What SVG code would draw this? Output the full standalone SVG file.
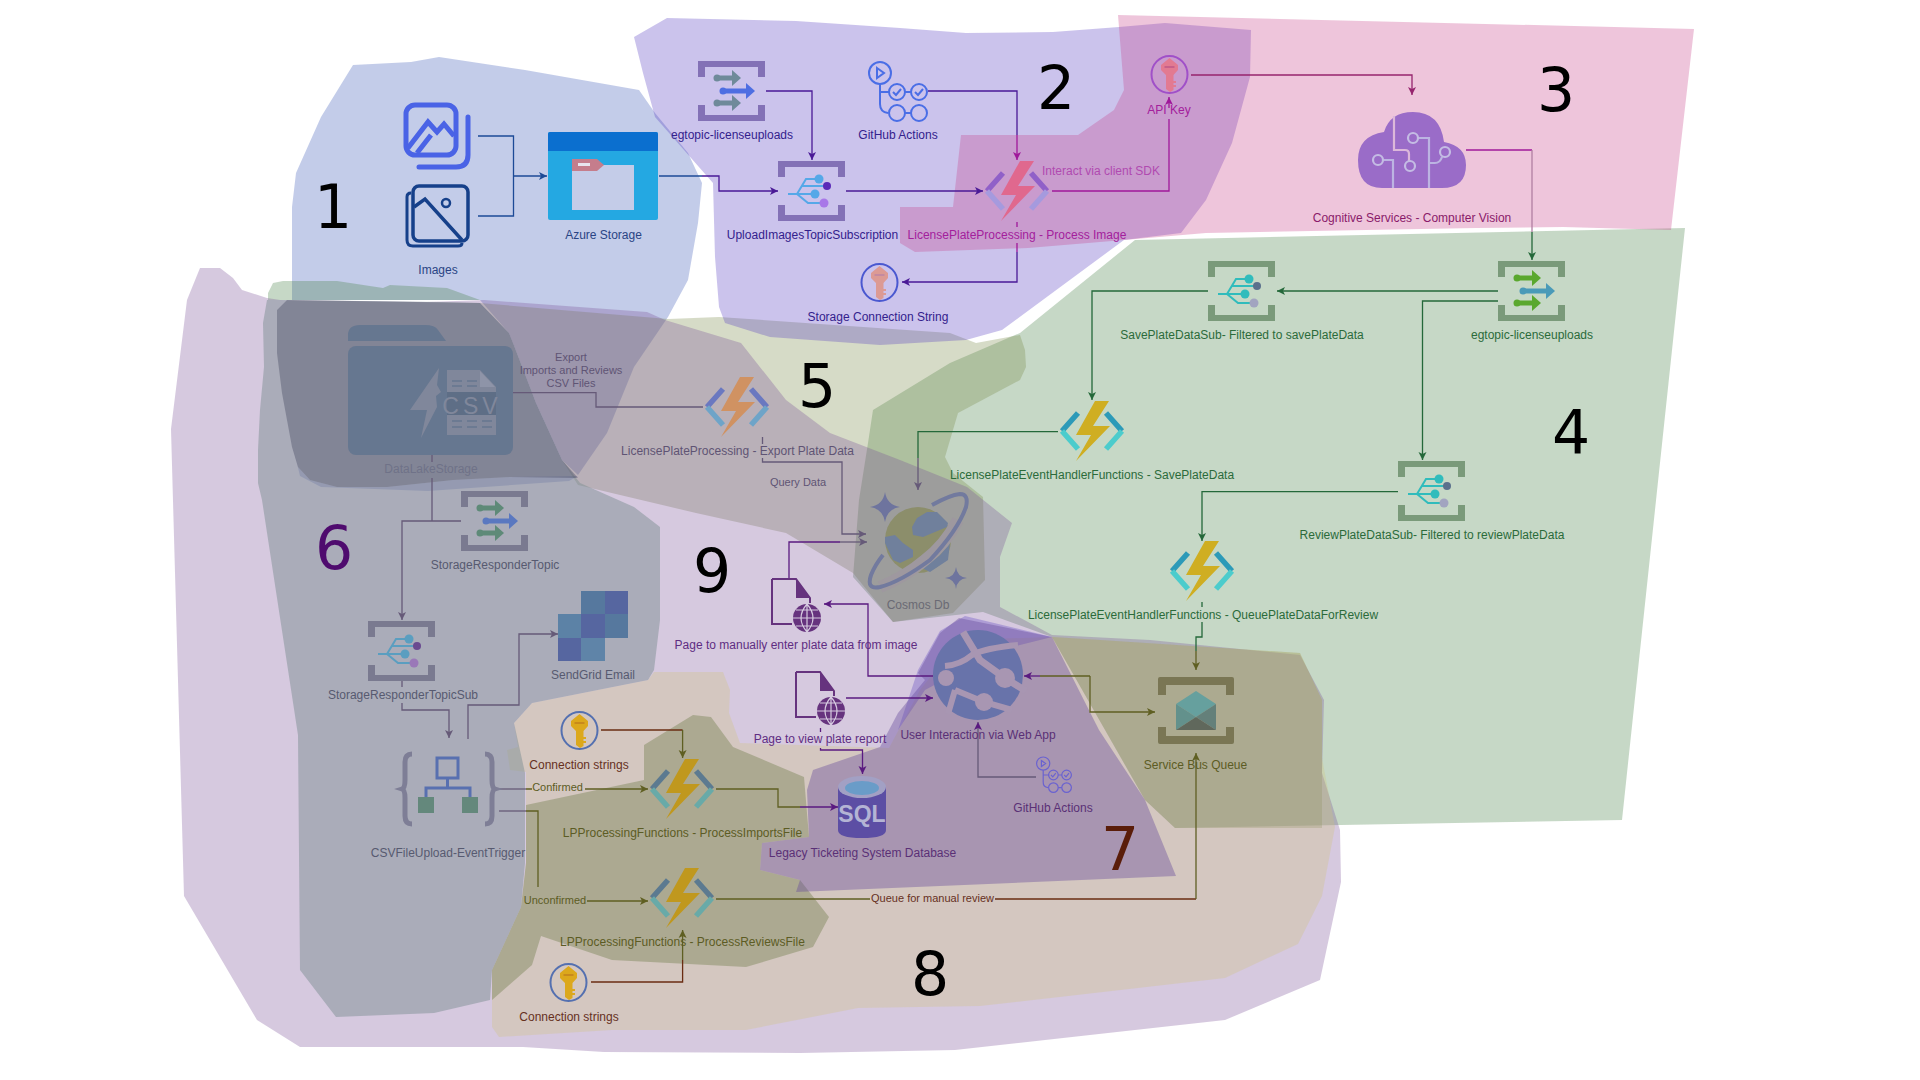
<svg xmlns="http://www.w3.org/2000/svg" width="1920" height="1080" viewBox="0 0 1920 1080">
<style>
text{font-family:"Liberation Sans",Arial,sans-serif;font-size:12px;text-anchor:middle}
.s{font-size:11px}
.num{font-family:"DejaVu Sans",sans-serif;font-size:60px;fill:#000}
.l{fill:none;stroke-width:1.3}
.navy{stroke:#1d4a96}.pur{stroke:#4a1a96}.mag{stroke:#a0189a}.pink{stroke:#96246e}.grn{stroke:#24683a}.gry{stroke:#665a78}.dpur{stroke:#5a1a80}.olv{stroke:#5f5f22}.brn{stroke:#6a2c12}.lg{stroke:#b07ea2}
.t1{fill:#2a4484}.t2{fill:#33218c}.t3{fill:#8a1a6a}.t3b{fill:#a3209c}.t3c{fill:#b04ab0}.t4{fill:#2b6b3a}
.t5{fill:#5f5474}.t6{fill:#575a70}.t6b{fill:#6f7288}.t7{fill:#5a3076}.t8{fill:#66301e}.t8b{fill:#5c5c24}.t9{fill:#5f2d82}.tc{fill:#6a6a74}
.fn{stroke-width:5.5;fill:none}
</style>
<defs>
<marker id="a-navy" markerUnits="userSpaceOnUse" markerWidth="9" markerHeight="10" refX="8" refY="5" orient="auto"><path d="M0 1L8 5L0 9L2 5Z" fill="#1d4a96"/></marker>
<marker id="a-pur" markerUnits="userSpaceOnUse" markerWidth="9" markerHeight="10" refX="8" refY="5" orient="auto"><path d="M0 1L8 5L0 9L2 5Z" fill="#4a1a96"/></marker>
<marker id="a-mag" markerUnits="userSpaceOnUse" markerWidth="9" markerHeight="10" refX="8" refY="5" orient="auto"><path d="M0 1L8 5L0 9L2 5Z" fill="#a0189a"/></marker>
<marker id="a-pink" markerUnits="userSpaceOnUse" markerWidth="9" markerHeight="10" refX="8" refY="5" orient="auto"><path d="M0 1L8 5L0 9L2 5Z" fill="#96246e"/></marker>
<marker id="a-grn" markerUnits="userSpaceOnUse" markerWidth="9" markerHeight="10" refX="8" refY="5" orient="auto"><path d="M0 1L8 5L0 9L2 5Z" fill="#24683a"/></marker>
<marker id="a-gry" markerUnits="userSpaceOnUse" markerWidth="9" markerHeight="10" refX="8" refY="5" orient="auto"><path d="M0 1L8 5L0 9L2 5Z" fill="#665a78"/></marker>
<marker id="a-dpur" markerUnits="userSpaceOnUse" markerWidth="9" markerHeight="10" refX="8" refY="5" orient="auto"><path d="M0 1L8 5L0 9L2 5Z" fill="#5a1a80"/></marker>
<marker id="a-olv" markerUnits="userSpaceOnUse" markerWidth="9" markerHeight="10" refX="8" refY="5" orient="auto"><path d="M0 1L8 5L0 9L2 5Z" fill="#5f5f22"/></marker>

<g id="fn">
<path class="fn" style="stroke:var(--u)" d="M-14-18L-30 0M14-18L30 0"/>
<path class="fn" style="stroke:var(--d)" d="M-30 0L-14 18M30 0L14 18"/>
<path style="fill:var(--b)" d="M3-30H17L1-5H18L-16 30L-1 4H-16Z"/>
</g>
<path id="brk" style="fill:var(--k)" d="M0 0H67V16H60V6H7V16H0ZM0 44H7V54H60V44H67V60H0Z"/>
<g id="sub">
<use href="#brk"/>
<path fill="none" style="stroke:var(--p)" stroke-width="2" d="M10 33H37M19 33L28 18H41M19 33L30 42H46M24 25H49"/>
<circle cx="41" cy="18" r="4.5" style="fill:var(--p)"/><circle cx="37" cy="33" r="4.5" style="fill:var(--p)"/>
<circle cx="49" cy="25" r="4" style="fill:var(--q)"/><circle cx="46" cy="42" r="4.5" style="fill:var(--r)"/>
</g>
<g id="top">
<use href="#brk"/>
<g style="fill:var(--p)"><circle cx="19" cy="17" r="3.5"/><rect x="19" y="14.500" width="16" height="5"/><path d="M34 9L43 17L34 25Z"/>
<circle cx="19" cy="42" r="3.5"/><rect x="19" y="39.500" width="16" height="5"/><path d="M34 34L43 42L34 50Z"/></g>
<g style="fill:var(--m)"><circle cx="25" cy="30" r="3.5"/><rect x="25" y="27.500" width="24" height="5"/><path d="M48 22L57 30L48 38Z"/></g>
</g>
<g id="key">
<ellipse cx="19.500" cy="19.500" rx="18" ry="18.500" fill="none" style="stroke:var(--r)" stroke-width="2"/>
<path style="fill:var(--k)" d="M19.500 3L28 10V15L23.500 20V26H26V28H23.500V30H26V32H23.500V35L20 37L16 34V20L11 15V10Z"/>
<rect x="14.500" y="11" width="10" height="2" style="fill:var(--h)"/>
</g>
<g id="gh" fill="none" style="stroke:var(--g)" stroke-width="2">
<circle cx="12" cy="11" r="11"/><path d="M9 6L16 11L9 16Z"/>
<path d="M12 22V42Q12 50 20 51M12 30Q12 30 22 30"/>
<circle cx="29" cy="30" r="8"/><circle cx="51" cy="30" r="8"/><circle cx="29" cy="51" r="8"/><circle cx="51" cy="51" r="8"/>
<path d="M37 30H43M37 51H43M25 30L28 33L33 27M47 30L50 33L55 27"/>
</g>
<g id="doc">
<path fill="none" stroke-width="2" style="stroke:var(--c)" d="M1 1H25L39 20V25M21 46H1V1"/>
<path style="fill:var(--c)" d="M25 1L39 20H25Z"/>
<ellipse cx="36" cy="40" rx="14" ry="14" style="fill:var(--c)"/>
<path fill="none" stroke="#d6cbe0" stroke-width="1.2" d="M22 40H50M25 32H47M25 48H47M36 26V54M36 26Q24 40 36 54M36 26Q48 40 36 54"/>
</g>
</defs>

<g id="regions">
<path id="r1" fill="#3755b6" fill-opacity=".3" d="M292 300L292 207L296 173L321 117L353 65L411 62L439 57L525 70L639 90L655 113L688 153L702 183L698 223L688 280L668 317L634 367L607 433L578 475L562 460L536 403L513 343L509 333L480 300ZM293 447L298 467L310 480L337 487L387 487L453 480L510 477L578 476L569 481L428 491L321 487L300 476Z"/>
<path id="r4" fill="#417d41" fill-opacity=".3" d="M1685 228L1622 820L1175 828L1145 800L1052 637L983 612L893 622L853 577L859 500L868 443L873 410L950 363L1020 333L1135 240Z"/>
<path id="r4b" fill="#417d41" fill-opacity=".3" d="M268 300L268 293L273 283L283 281L337 281L383 288L390 285L447 288L480 300Z"/>
<path id="r5" fill="#768744" fill-opacity=".3" d="M480 303L668 319L719 317L950 333L976 343L1020 335L1025 350L1026 367L1020 380L958 413L945 457L953 473L983 497L985 580L953 613L893 622L853 573L786 533L696 513L578 485L562 460L536 403L513 343L509 333Z"/>
<path id="r9" fill="#764b94" fill-opacity=".3" d="M200 268L220 268L233 278L242 290L267 298L280 300L427 302L484 300L647 312L665 320L741 343L786 400L830 433L900 460L967 487L1012 523L1000 557L1000 607L1052 635L1150 640L1300 655L1324 700L1322 773L1340 830L1341 882L1320 980L1225 1020L1090 1035L955 1050L800 1053L604 1052L523 1047L300 1047L257 1020L184 896L171 429L187 300Z"/>
<path id="r8" fill="#cfc27b" fill-opacity=".3" d="M492 1000L492 1027L499 1037L612 1030L746 1030L858 1008L980 1006L1225 978L1298 944L1322 896L1335 827L1322 758L1322 700L1300 653L1100 640L1052 637L960 640L920 690L889 748L740 743L729 713L730 690L723 672L654 672L648 680L532 703L514 723L518 747L507 750L510 770L526 772L526 863L521 907L492 970Z"/>
<path id="blob" fill="#627238" fill-opacity=".35" d="M526 805L644 780L644 745L693 715L711 717L733 747L804 777L809 837L762 843L760 870L800 880L829 917L813 947L746 967L612 960L541 936L532 965L492 1000L492 970L521 907L526 863Z"/>
<path id="blobr" fill="#888c54" fill-opacity=".25" d="M1052 637L1100 640L1300 653L1322 700L1322 758L1322 828L1175 828L1145 800Z"/>
<path id="r6" fill="#7e8f93" fill-opacity=".5" d="M267 300L280 300L441 302L480 303L509 333L513 343L536 403L562 460L580 483L634 507L660 527L660 620L654 670L648 680L532 703L514 723L525 773L525 863L521 907L492 970L490 1000L434 1013L336 1017L300 970L298 735L262 500L258 483L258 450L260 410L264 367L263 323Z"/>
<path id="r6b" fill="#383c55" fill-opacity=".35" d="M287 300L480 303L509 333L513 343L536 403L562 460L578 478L510 477L453 480L387 487L337 487L310 480L298 467L292 447L282 393L277 353L277 310Z"/>
<path id="r2" fill="#5237c0" fill-opacity=".3" d="M634 37L667 18L796 21L900 28L966 33L1053 32L1119 27L1165 23L1251 30L1250 77L1232 143L1206 200L1181 233L1124 240L1002 330L966 340L880 345L770 337L725 323L719 307L715 257L713 183L655 117L643 73Z"/>
<path id="r3" fill="#c63e87" fill-opacity=".3" d="M1118 15L1694 29L1671 230L1563 227L1476 228L1206 233L1124 240L1028 248L915 252L900 243L900 207L953 207L961 135L1078 135L1114 110L1124 90Z"/>
<path id="fringe" fill="#5237c0" fill-opacity=".3" d="M898 730L918 670L940 631L965 616L1052 637L1000 650L925 690Z"/>
<path id="r7" fill="#664c9b" fill-opacity=".4" d="M959 618L1052 637L1099 730L1145 800L1176 876L796 892L800 880L760 870L762 843L809 837L807 790L813 770L880 747L898 713L925 680L918 673L940 633Z"/>
</g>

<g id="connectors">
<path class="l navy" d="M478 136H513.500V216H478"/><path class="l navy" d="M513.500 176H547" marker-end="url(#a-navy)"/>
<path class="l navy" d="M659 176H702"/><path class="l pur" d="M702 176H719V191H778" marker-end="url(#a-pur)"/>
<path class="l pur" d="M766 91H812V160" marker-end="url(#a-pur)"/>
<path class="l pur" d="M846 191H983" marker-end="url(#a-pur)"/>
<path class="l pur" d="M928 91H1017V135"/><path class="l mag" d="M1017 135V160" marker-end="url(#a-mag)"/>
<path class="l mag" d="M1052 191H1169V119"/><path class="l mag" d="M1169 108V97" marker-end="url(#a-mag)"/>
<path class="l mag" d="M1017 222V227M1017 243V252"/><path class="l pur" d="M1017 252V282H902" marker-end="url(#a-pur)"/>
<path class="l pink" d="M1191 75H1412V95" marker-end="url(#a-pink)"/>
<path class="l mag" d="M1466 150H1532"/><path class="l lg" d="M1532 150V232"/><path class="l grn" d="M1532 232V260" marker-end="url(#a-grn)"/>
<path class="l grn" d="M1498 291H1277" marker-end="url(#a-grn)"/>
<path class="l grn" d="M1208 291H1092V400" marker-end="url(#a-grn)"/>
<path class="l grn" d="M1498 301H1422.500V460" marker-end="url(#a-grn)"/>
<path class="l grn" d="M1058 431.700H918V458"/><path class="l gry" d="M918 458V490" marker-end="url(#a-gry)"/>
<path class="l grn" d="M1398 491.700H1202V541" marker-end="url(#a-grn)"/>
<path class="l grn" d="M1202 602V607M1202 622V637H1196V651"/><path class="l olv" d="M1196 651V670" marker-end="url(#a-olv)"/>
<path class="l olv" d="M716 899H870"/><path class="l brn" d="M995 899H1196"/><path class="l olv" d="M1196 899V753" marker-end="url(#a-olv)"/>
<path class="l olv" d="M1090 676H1040"/><path class="l dpur" d="M1040 676H1024" marker-end="url(#a-dpur)"/>
<path class="l olv" d="M1090 676V712H1155" marker-end="url(#a-olv)"/>
<path class="l dpur" d="M933 676H868V604H824" marker-end="url(#a-dpur)"/>
<path class="l dpur" d="M789 578V542H840"/><path class="l gry" d="M840 542H867" marker-end="url(#a-gry)"/>
<path class="l gry" d="M762.500 437V444M762.500 458V462H842V534H866" marker-end="url(#a-gry)"/>
<path class="l gry" d="M513 392.700H596V407H703"/>
<path class="l gry" d="M432 455V462M432 478V521"/><path class="l gry" d="M461 521H402V620" marker-end="url(#a-gry)"/>
<path class="l gry" d="M402 681V687M402 703V710H449V738" marker-end="url(#a-gry)"/>
<path class="l gry" d="M468 739V705H519V634H558" marker-end="url(#a-gry)"/>
<path class="l gry" d="M499 789H526"/><path class="l olv" d="M526 789H532M585 789H648" marker-end="url(#a-olv)"/>
<path class="l gry" d="M499 811H526"/><path class="l olv" d="M526 811H538V887M587 901H648" marker-end="url(#a-olv)"/>
<path class="l brn" d="M601 730H682.600"/><path class="l olv" d="M682.600 730V758" marker-end="url(#a-olv)"/>
<path class="l olv" d="M716 789H778V807H800"/><path class="l dpur" d="M800 807H838" marker-end="url(#a-dpur)"/>
<path class="l brn" d="M591 982H682.600V960"/><path class="l olv" d="M682.600 960V930" marker-end="url(#a-olv)"/>
<path class="l dpur" d="M846 698H933" marker-end="url(#a-dpur)"/>
<path class="l dpur" d="M820.500 728V732M820.500 748V750H862.500V774" marker-end="url(#a-dpur)"/>
<path class="l gry" d="M1036 777H978V722" marker-end="url(#a-dpur)"/>
</g>

<g id="n-images1">
<rect x="406" y="105" width="50" height="50" rx="9" fill="none" stroke="#4a63e6" stroke-width="5"/>
<path d="M408 148L428 122L437 132L444 124L454 136M417 153L431 135" fill="none" stroke="#4a63e6" stroke-width="5"/>
<path d="M468 117V155Q468 167 456 167H419" fill="none" stroke="#4a63e6" stroke-width="5" stroke-linecap="round"/>
</g>
<g id="n-images2">
<rect x="413" y="186" width="55" height="55" rx="6" fill="none" stroke="#16408a" stroke-width="3.500"/>
<path d="M411 193Q407 193 407 197V240Q407 246 413 246H458Q462 246 462 243" fill="none" stroke="#16408a" stroke-width="3"/>
<path d="M414 207L425 199L462 240" fill="none" stroke="#16408a" stroke-width="3.500"/>
<circle cx="446" cy="203" r="4" fill="none" stroke="#16408a" stroke-width="2.500"/>
<text class="t1" x="438" y="274">Images</text>
</g>
<g id="n-azure-storage">
<rect x="548" y="132" width="110" height="88" rx="2" fill="#24a8e2"/>
<path d="M548 151V134Q548 132 550 132H656Q658 132 658 134V151Z" fill="#0b6fcf"/>
<rect x="572" y="165" width="62" height="45" fill="#c4cce8"/>
<path d="M572 159H597L604 165L597 171H572Z" fill="#c57d8c"/>
<rect x="578" y="163" width="12" height="3" fill="#e8e4ee"/>
<text class="t1" x="603.500" y="239">Azure Storage</text>
</g>
<g id="n-egtopic1" style="--k:#8371b6;--p:#6f8a9a;--m:#4e6ee2"><use href="#top" x="698" y="61"/><text class="t2" x="732" y="139">egtopic-licenseuploads</text></g>
<g id="n-upload-sub" style="--k:#8371b6;--p:#55a8e8;--q:#5a2ab8;--r:#a878e8"><use href="#sub" x="778" y="161"/><text class="t2" x="812.500" y="239">UploadImagesTopicSubscription</text></g>
<g id="n-gh1" style="--g:#4a6ee6"><use href="#gh" x="868" y="62"/><text class="t2" x="898" y="139">GitHub Actions</text></g>
<g id="n-process-image" style="--u:#9060c8;--d:#a59ade;--b:#e0688e"><use href="#fn" x="1017" y="191"/><text class="t3b" x="1017" y="239">LicensePlateProcessing - Process Image</text></g>
<text id="l-sdk" class="t3c" x="1101" y="175">Interact via client SDK</text>
<g id="n-apikey" style="--r:#a050c8;--k:#e27a92;--h:#c8608a"><use href="#key" x="1150" y="55"/><text class="t3b" x="1169" y="114">API Key</text></g>
<g id="n-storage-conn" style="--r:#4a58d0;--k:#dc9a94;--h:#c48aa0"><use href="#key" x="860" y="263"/><text class="t2" x="878" y="321">Storage Connection String</text></g>
<g id="n-cognitive">
<path fill="#9a6cc8" d="M1382 188Q1358 188 1358 160Q1358 136 1384 132Q1390 112 1413 112Q1440 112 1444 142Q1466 146 1466 165Q1466 188 1442 188Z"/>
<path fill="none" stroke="#dcb8da" stroke-width="2.200" d="M1394 116V150H1405Q1409 150 1409 154V161"/>
<path fill="none" stroke="#bcb4e2" stroke-width="2.200" d="M1418 138H1429V188M1442 157Q1440 163 1435 163H1429M1383 160H1393V188"/>
<g fill="none" stroke="#c4bce4" stroke-width="2.200"><circle cx="1378" cy="160" r="5"/><circle cx="1410" cy="166" r="5"/><circle cx="1413" cy="138" r="5"/><circle cx="1445" cy="152" r="5"/></g>
<text class="t3" x="1412" y="221.500">Cognitive Services - Computer Vision</text>
</g>
<g id="n-egtopic2" style="--k:#7a9a7a;--p:#5aa82e;--m:#4a9ab8"><use href="#top" x="1498" y="261"/><text class="t4" x="1532" y="339">egtopic-licenseuploads</text></g>
<g id="n-save-sub" style="--k:#7a9a7a;--p:#30bcbc;--q:#5a708c;--r:#a2a4c0"><use href="#sub" x="1208" y="261"/><text class="t4" x="1242" y="339">SavePlateDataSub- Filtered to savePlateData</text></g>
<g id="n-review-sub" style="--k:#7a9a7a;--p:#30bcbc;--q:#5a708c;--r:#a2a4c0"><use href="#sub" x="1398" y="461"/><text class="t4" x="1432" y="539">ReviewPlateDataSub- Filtered to reviewPlateData</text></g>
<g id="n-save-fn" style="--u:#2c9ab8;--d:#4ccccc;--b:#cfae22"><use href="#fn" x="1092" y="431"/><text class="t4" x="1092" y="479">LicensePlateEventHandlerFunctions - SavePlateData</text></g>
<g id="n-queue-fn" style="--u:#2c9ab8;--d:#4ccccc;--b:#cfae22"><use href="#fn" x="1202" y="571"/><text class="t4" x="1203" y="619">LicensePlateEventHandlerFunctions - QueuePlateDataForReview</text></g>
<g id="n-bus">
<path fill="#7a7654" d="M1160 677H1232Q1234 677 1234 679V695H1226V685H1166V695H1158V679Q1158 677 1160 677ZM1158 727H1166V736H1226V727H1234V742Q1234 744 1232 744H1160Q1158 744 1158 742Z"/>
<path fill="#66a09e" d="M1176 704L1196 691L1216 704L1196 717Z"/>
<path fill="#63918c" d="M1176 704L1196 717L1176 730Z"/><path fill="#64807a" d="M1216 704L1196 717L1216 730Z"/>
<path fill="#60685c" d="M1176 730L1196 717L1216 730Z"/>
<text class="t8b" x="1195.500" y="769">Service Bus Queue</text>
</g>
<g id="n-datalake">
<path fill="#667790" d="M348 341V335Q348 325 360 325H425Q435 325 438 330L446 341Z"/>
<rect x="348" y="346" width="165" height="109" rx="8" fill="#667790"/>
<path fill="#80879b" d="M439 368L410 410H427L421 438L437 407L436 396L441 392L437 385Z"/>
<path fill="#80879b" d="M447 370H480L496 387V435H447Z"/>
<path fill="#8e94a8" d="M480 371L495 387H480Z"/>
<rect x="447" y="392" width="49" height="23" fill="#5e6e86"/>
<text x="472" y="414" style="font-size:23px;letter-spacing:4px" fill="#80879b">CSV</text>
<path stroke="#667790" stroke-width="1.500" d="M452 381H462M467 381H477M452 386H462M467 386H477M452 421H462M467 421H477M482 421H492M452 427H462M467 427H477M482 427H492"/>
<text class="t6b" x="431" y="473">DataLakeStorage</text>
</g>
<text id="l-export" class="t5 s" x="571"><tspan x="571" y="361">Export</tspan><tspan x="571" y="374">Imports and Reviews</tspan><tspan x="571" y="387">CSV Files</tspan></text>
<g id="n-export-fn" style="--u:#6a78c0;--d:#6ea4c8;--b:#d09262"><use href="#fn" x="737" y="407"/><text class="t5" x="737.500" y="455">LicensePlateProcessing - Export Plate Data</text></g>
<text id="l-query" class="t5 s" x="798" y="486">Query Data</text>
<g id="n-cosmos">
<circle cx="918" cy="540" r="33" fill="#8c8e6b"/>
<path fill="#70809c" d="M912 527L917 518L927 512L937 512L948 523L947 527L923 537L913 535ZM885 537L895 535L903 543L913 550L913 557L900 563L893 560L885 543ZM950 543L948 560L930 572L922 568L940 555Z"/>
<path fill="none" stroke="#9e989f" stroke-width="12" d="M958 520Q945 545 925 560Q905 577 880 587"/>
<path fill="none" stroke="#727a9e" stroke-width="4" d="M932 505Q950 495 960 494Q969 494 966 507Q958 530 930 560Q900 582 880 587Q866 590 871 575Q875 565 883 555"/>
<path fill="#6e749e" d="M885 492Q887 505 900 507Q887 509 885 522Q883 509 870 507Q883 505 885 492ZM956 567Q957 577 967 578Q957 579 956 589Q955 579 945 578Q955 577 956 567Z"/>
<text class="tc" x="918" y="609">Cosmos Db</text>
</g>
<g id="n-page1" style="--c:#66337e"><use href="#doc" x="771" y="578"/><text class="t9" x="796" y="649">Page to manually enter plate data from image</text></g>
<g id="n-page2" style="--c:#66337e"><use href="#doc" x="795" y="671"/><text class="t9" x="820" y="743">Page to view plate report</text></g>
<g id="n-webapp">
<circle cx="978" cy="675" r="45" fill="#6873aa"/>
<path fill="none" stroke="#a896b2" stroke-width="7" d="M963 632L980 660L1005 678L1026 691"/>
<path fill="none" stroke="#a896b2" stroke-width="6" d="M945 666Q960 665 972 655Q985 648 1018 645M955 690L948 714M955 690L984 702L1012 710"/>
<circle cx="946" cy="678" r="8" fill="#a896b2"/><circle cx="1005" cy="678" r="10" fill="#a896b2"/><circle cx="984" cy="702" r="9" fill="#a896b2"/>
<text class="t7" x="978" y="739">User Interaction via Web App</text>
</g>
<g id="n-gh2" style="--g:#6a62d0"><use href="#gh" transform="translate(1036 757) scale(.6)"/><text class="t7" x="1053" y="812">GitHub Actions</text></g>
<g id="n-resp-topic" style="--k:#7a7a90;--p:#5e8a78;--m:#5a78c0"><use href="#top" x="461" y="491"/><text class="t6" x="495" y="569">StorageResponderTopic</text></g>
<g id="n-resp-sub" style="--k:#7a7a90;--p:#5a9ec0;--q:#6a4a90;--r:#9a78b8"><use href="#sub" x="368" y="621"/><text class="t6" x="403" y="699">StorageResponderTopicSub</text></g>
<g id="n-sendgrid">
<g fill="#56789e"><rect x="581" y="591" width="24" height="23"/><rect x="558" y="614" width="23" height="24" fill="#5c82a6"/><rect x="605" y="614" width="23" height="24"/><rect x="581" y="638" width="24" height="23" fill="#5f84a8"/></g>
<g fill="#5666a0"><rect x="605" y="591" width="23" height="23"/><rect x="581" y="614" width="24" height="24"/><rect x="558" y="638" width="23" height="23"/></g>
<text class="t6" x="593" y="679">SendGrid Email</text>
</g>
<g id="n-trigger">
<path fill="none" stroke="#7e7e96" stroke-width="5" d="M412 754Q405 754 405 762V780Q405 788 402 789Q405 790 405 798V816Q405 824 412 824M485 754Q492 754 492 762V780Q492 788 495 789Q492 790 492 798V816Q492 824 485 824"/>
<rect x="437" y="758" width="21" height="20" fill="none" stroke="#5870b0" stroke-width="3"/>
<path fill="none" stroke="#5870b0" stroke-width="3" d="M447.500 778V788M426 797V788H470V797"/>
<rect x="418" y="797" width="16" height="16" fill="#64887c"/><rect x="462" y="797" width="16" height="16" fill="#64887c"/>
<text class="t6" x="448" y="857">CSVFileUpload-EventTrigger</text>
</g>
<g id="n-key2" style="--r:#5470b0;--k:#dca81c;--h:#c88a1c"><use href="#key" x="560" y="711"/><text class="t8" x="579" y="769">Connection strings</text></g>
<g id="n-key3" style="--r:#5470b0;--k:#dca81c;--h:#c88a1c"><use href="#key" x="549" y="963"/><text class="t8" x="569" y="1021">Connection strings</text></g>
<g id="n-imports-fn" style="--u:#5c7a90;--d:#68aaa8;--b:#c0981e"><use href="#fn" x="682" y="789"/><text class="t8b" x="682.500" y="837">LPProcessingFunctions - ProcessImportsFile</text></g>
<g id="n-reviews-fn" style="--u:#5c7a90;--d:#68aaa8;--b:#c0981e"><use href="#fn" x="682" y="898"/><text class="t8b" x="682.500" y="946">LPProcessingFunctions - ProcessReviewsFile</text></g>
<g id="n-sql">
<path fill="#5c4ea4" d="M838 787V830Q838 838 862 838Q886 838 886 830V787Z"/>
<ellipse cx="862" cy="787" rx="24" ry="11" fill="#a2a0c4"/><ellipse cx="862" cy="788" rx="17" ry="7" fill="#6a9cc8"/>
<text x="862" y="822" style="font-size:23px;font-weight:bold" fill="#b4b4d4">SQL</text>
<text class="t7" x="862.500" y="857">Legacy Ticketing System Database</text>
</g>
<text class="t8b s" x="557.500" y="791">Confirmed</text>
<text class="t8b s" x="555" y="904">Unconfirmed</text>
<text class="t8 s" x="932.500" y="902">Queue for manual review</text>
<g id="numbers">
<text class="num" x="333" y="228">1</text>
<text class="num" x="1056" y="109">2</text>
<text class="num" x="1556" y="111">3</text>
<text class="num" x="1571" y="453">4</text>
<text class="num" x="817" y="407">5</text>
<text class="num" x="334" y="569" style="fill:#4f0b6e">6</text>
<text class="num" x="1120" y="870" style="fill:#5a1d0a">7</text>
<text class="num" x="930" y="995">8</text>
<text class="num" x="712" y="592">9</text>
</g>
</svg>
